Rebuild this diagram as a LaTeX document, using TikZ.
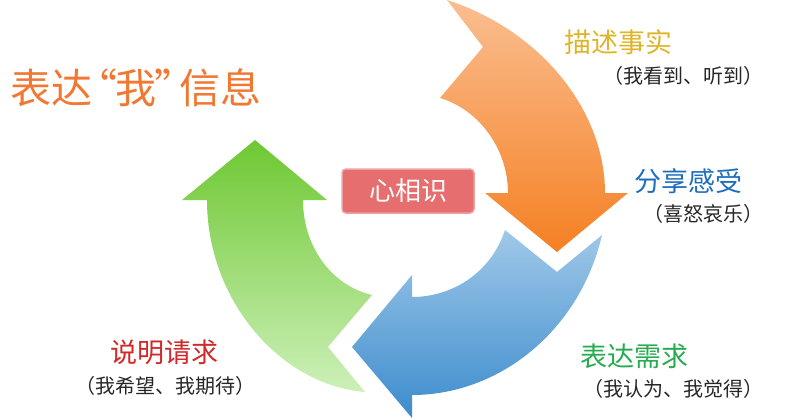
\documentclass[tikz,border=0pt]{standalone}
\usepackage{fontspec}
\setmainfont{Noto Sans CJK SC}
\begin{document}
\begin{tikzpicture}[x=1pt,y=-1pt,
  lbl/.style={inner sep=0pt,anchor=west,font=\fontsize{27}{30}\selectfont},
  sub/.style={inner sep=0pt,anchor=east,font=\fontsize{20}{22}\selectfont,text=black!85}]
\useasboundingbox (0,0) rectangle (800,420);
% orange
\shade[top color={rgb,255:red,250;green,190;blue,145}, bottom color={rgb,255:red,245;green,128;blue,35}]
 (447,0) .. controls (540,30) and (605,110) .. (605,193) -- (628,193) -- (557,252) -- (485,193) -- (508,193)
 .. controls (508,150) and (480,110) .. (440,98) -- (483,47) -- cycle;
% blue
\shade[top color={rgb,255:red,160;green,200;blue,232}, bottom color={rgb,255:red,60;green,140;blue,205}]
 (505,230) .. controls (490,275) and (450,297) .. (412,297) -- (412,275) -- (352,347) -- (412,418) -- (412,395)
 .. controls (500,395) and (580,330) .. (602,235) -- (557,272) -- cycle;
% green
\shade[top color={rgb,255:red,110;green,200;blue,50}, bottom color={rgb,255:red,205;green,240;blue,185}]
 (372,295) .. controls (330,285) and (303,245) .. (303,200) -- (327,200) -- (255,140) -- (182,200) -- (207,200)
 .. controls (207,300) and (280,385) .. (365,392) -- (328,347) -- cycle;
% center
\node[draw={rgb,255:red,240;green,160;blue,160},line width=1.5pt,fill={rgb,255:red,230;green,110;blue,110},rounded corners=4pt,
 minimum width=132pt,minimum height=44pt,text=white,font=\fontsize{26}{28}\selectfont] (c) at (408,191) {心相识};
\node[inner sep=0pt,anchor=west,font=\fontsize{41}{44}\selectfont,text={rgb,255:red,240;green,120;blue,50}] (t) at (10,88) {表达\kern-16pt“\kern-2pt我\kern-2pt”\kern-16pt信息};
\node[lbl,text={rgb,255:red,222;green,180;blue,40}] (a1) at (564,42) {描述事实};
\node[sub] (a2) at (764,76) {（我看到、听到）};
\node[lbl,text={rgb,255:red,30;green,110;blue,190}] (b1) at (634,181) {分享感受};
\node[sub] (b2) at (764,214) {（喜怒哀乐）};
\node[lbl,text={rgb,255:red,40;green,170;blue,80}] (d1) at (580,356) {表达需求};
\node[sub] (d2) at (764,389) {（我认为、我觉得）};
\node[lbl,text={rgb,255:red,210;green,40;blue,40}] (e1) at (110,352) {说明请求};
\node[sub] (e2) at (256,386) {（我希望、我期待）};
\end{tikzpicture}
\end{document}
